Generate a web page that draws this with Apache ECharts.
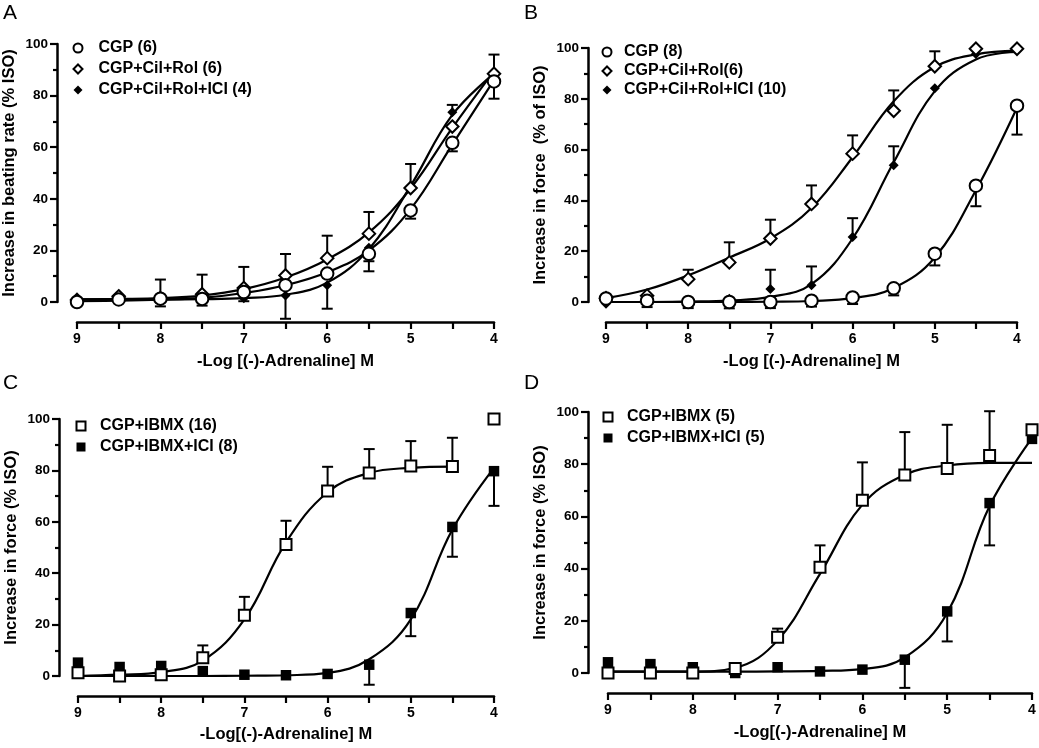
<!DOCTYPE html>
<html>
<head>
<meta charset="utf-8">
<script src="https://cdn.jsdelivr.net/npm/echarts@6/dist/echarts.min.js"></script>
<style>html,body{margin:0;padding:0;background:#fff}#c{width:1039px;height:748px}</style>
</head>
<body>
<div id="c"></div>
<script>
// -Log[(-)-Adrenaline] M
const doses = [9, 8.5, 8, 7.5, 7, 6.5, 6, 5.5, 5, 4.5, 4];
const xTicks = [9, 8, 7, 6, 5, 4];
const yTicks = [0, 20, 40, 60, 80, 100];

// Panel A
const aCGP     = [0, 1, 1.3, 1.2, 3.9, 6.5, 11, 18.7, 35.5, 61.7, 85.5];
const aCGPerr  = [null, null, -1.7, -1.4, 0.3, null, null, 11.9, 32.3, 58.4, 78.8];
const aCil     = [0.8, 2.2, 1.5, 3, 5.4, 10.3, 17, 26.5, 44.2, 68, 88.5];
const aCilErr  = [null, null, 8.7, 10.6, 13.6, 18.6, 25.7, 34.9, 53.5, null, 95.9];
const aICI     = [0.5, 1.5, 1, 1, 1.5, 2.5, 6.5, 21, 44, 73.5, 87];
const aICIerr  = [null, null, null, null, null, -6.5, -2.6, 15.8, null, 76.4, null];
const aCGPfit  = [0.3, 0.5, 0.9, 1.6, 3.5, 6.5, 11.5, 20, 36, 61, 86];
const aCilFit  = [1, 1.2, 1.5, 2.5, 5, 9.5, 16.5, 27, 44, 67.5, 89.5];
const aICIfit  = [1, 1, 1, 1.1, 1.5, 2.8, 7.5, 20.5, 45, 72.5, 88.5];

// Panel B
const bCGP     = [1.4, 0.5, 0, 0, 0, 0.5, 1.8, 5.4, 19, 45.8, 77.3];
const bCGPerr  = [null, -2, -2.4, -2.5, -2.4, -1.8, -0.8, 2.6, 14.4, 37.7, 65.9];
const bCil     = [1.5, 2.5, 9, 15.6, 25, 38.6, 58.4, 75.3, 92.8, 99.7, 99.7];
const bCilErr  = [null, null, 12.7, 23.5, 32.4, 45.9, 65.6, 83.3, 98.7, null, null];
const bICI     = [-0.7, 1, 0.5, 1.3, 5.1, 6.6, 25.6, 53.8, 84.2, 97.6, 99.5];
const bICIerr  = [null, null, null, null, 12.7, 14, 33, 61.3, null, null, null];
const bCGPfit  = [0, 0, 0, 0, 0.1, 0.4, 1.5, 5.5, 17.5, 44, 76.5];
const bCilFit  = [1.5, 4.9, 10.5, 17.5, 25, 37, 57, 79, 92.5, 97.5, 99];
const bICIfit  = [0, 0, 0.2, 0.6, 2, 7, 25, 55, 83, 95.5, 98.5];

// Panel C
const cIBMX     = [1.3, 0, 0.5, 7.1, 23.6, 51.2, 72, 79, 81.7, 81.5, 100];
const cIBMXerr  = [null, null, null, 11.9, 30.8, 60.4, 81.4, 88.3, 91.4, 92.7, null];
const cICI      = [5.2, 3.5, 3.9, 1.9, 0.5, 0.3, 0.8, 4.4, 24.5, 58, 79.7];
const cICIerr   = [null, null, null, null, null, null, null, -3.4, 15.5, 46.4, 66.2];
const cIBMXfit  = [0, 0.5, 1.5, 6, 22, 52, 71.5, 79, 81, 81.5, null];
const cICIfit   = [0, 0, 0, 0, 0.1, 0.3, 1.2, 6.5, 22, 57, 81];

// Panel D
const dIBMX     = [0, 0, 0, 1.7, 13.7, 40.5, 66.2, 75.9, 78.4, 83.3, 93.2];
const dIBMXerr  = [null, null, null, null, 17, 48.9, 80.7, 92.3, 95.1, 100.3, null];
const dICI      = [4.1, 3.4, 2.2, 0, 2.2, 0.6, 1.3, 5.1, 23.6, 65.1, 89.7];
const dICIerr   = [null, null, null, null, null, null, null, -5.7, 12.1, 48.9, null];
const dIBMXfit  = [0.5, 0.5, 0.5, 2, 12.5, 38, 64.5, 76, 79.5, 80.5, 80.5];
const dICIfit   = [0.5, 0.5, 0.5, 0.5, 0.6, 0.8, 1.5, 6, 23, 64, 90];

const FONT = "'Liberation Sans', Arial, sans-serif";
const chart = echarts.init(document.getElementById('c'));

function pairs(vals) {
  const out = [];
  doses.forEach((x, i) => { if (vals[i] != null) out.push([x, vals[i]]); });
  return out;
}
function errPairs(vals, errs) {
  const out = [];
  doses.forEach((x, i) => { if (errs[i] != null) out.push([x, vals[i], errs[i]]); });
  return out;
}
function xAxis(idx, name, gap) {
  return {
    gridIndex: idx, type: 'value', min: 4, max: 9, interval: 0.5, inverse: true,
    offset: 20, name: name, nameLocation: 'middle', nameGap: gap,
    nameTextStyle: { fontFamily: FONT, fontWeight: 'bold', fontSize: 16.5, color: '#000' },
    axisLine: { onZero: false, lineStyle: { color: '#000', width: 2.5 } },
    axisTick: { length: 7, lineStyle: { color: '#000', width: 2.2 } },
    axisLabel: { margin: 10, fontFamily: FONT, fontWeight: 'bold', fontSize: 14, color: '#000',
      formatter: v => xTicks.indexOf(v) >= 0 ? String(v) : '' },
    splitLine: { show: false }
  };
}
function yAxis(idx, name, off) {
  return {
    gridIndex: idx, type: 'value', min: yTicks[0], max: yTicks[yTicks.length - 1], interval: 20,
    offset: off, name: name, nameLocation: 'middle', nameGap: 39,
    nameTextStyle: { fontFamily: FONT, fontWeight: 'bold', fontSize: 16.5, color: '#000' },
    axisLine: { show: true, lineStyle: { color: '#000', width: 2.5 } },
    axisTick: { show: true, length: 7, lineStyle: { color: '#000', width: 2.2 } },
    minorTick: { show: true, splitNumber: 2, length: 4, lineStyle: { color: '#000', width: 2.2 } },
    axisLabel: { margin: 9, fontFamily: FONT, fontWeight: 'bold', fontSize: 13.5, color: '#000' },
    splitLine: { show: false }
  };
}
function pts(idx, name, vals, symbol, size, filled) {
  return {
    type: 'scatter', name: name, xAxisIndex: idx, yAxisIndex: idx, data: pairs(vals),
    symbol: symbol, symbolSize: size, clip: false, z: 4, silent: true,
    itemStyle: filled ? { color: '#000', borderColor: '#000', borderWidth: 0, opacity: 1 }
                      : { color: '#fff', borderColor: '#000', borderWidth: 2, opacity: 1 }
  };
}
function fit(idx, vals) {
  return {
    type: 'line', xAxisIndex: idx, yAxisIndex: idx, data: pairs(vals), showSymbol: false,
    symbol: 'none', smooth: 0.4, clip: false, z: 3, silent: true,
    lineStyle: { color: '#000', width: 2.2 }
  };
}
function err(idx, vals, errs) {
  return {
    type: 'custom', xAxisIndex: idx, yAxisIndex: idx, data: errPairs(vals, errs),
    clip: false, z: 2, silent: true,
    renderItem: function (params, api) {
      const x = api.value(0), y0 = api.value(1), y1 = api.value(2);
      const p0 = api.coord([x, y0]), p1 = api.coord([x, y1]);
      const hw = 5.5;
      return { type: 'group', children: [
        { type: 'line', shape: { x1: p0[0], y1: p0[1], x2: p1[0], y2: p1[1] }, style: { stroke: '#000', lineWidth: 2 } },
        { type: 'line', shape: { x1: p1[0] - hw, y1: p1[1], x2: p1[0] + hw, y2: p1[1] }, style: { stroke: '#000', lineWidth: 2 } }
      ] };
    }
  };
}
function legend(names, left, top, gap, pad) {
  return {
    data: names, orient: 'vertical', left: left, top: top, itemWidth: 9, itemHeight: 9,
    itemGap: gap, selectedMode: false, padding: 0,
    textStyle: { fontFamily: FONT, fontWeight: 'bold', fontSize: 16, color: '#000', lineHeight: 16,
      padding: [0, 0, 0, pad] }
  };
}

const option = {
  animation: false,
  backgroundColor: '#fff',
  grid: [
    { left: 77, top: 44, width: 417, height: 258 },
    { left: 606, top: 48, width: 411, height: 254 },
    { left: 78, top: 419, width: 416, height: 257 },
    { left: 608, top: 412, width: 424, height: 261 }
  ],
  xAxis: [
    xAxis(0, '-Log [(-)-Adrenaline] M', 31),
    xAxis(1, '-Log [(-)-Adrenaline] M', 31),
    xAxis(2, '-Log[(-)-Adrenaline] M', 30),
    xAxis(3, '-Log[(-)-Adrenaline] M', 31)
  ],
  yAxis: [
    yAxis(0, 'Increase in beating rate (% ISO)', 20),
    yAxis(1, 'Increase in force  (% of ISO)', 18),
    yAxis(2, 'Increase in force (% ISO)', 19),
    yAxis(3, 'Increase in force (% ISO)', 20)
  ],
  legend: [
    legend(['CGP (6)', 'CGP+Cil+Rol (6)', 'CGP+Cil+Rol+ICI (4)'], 72.5, 40, 5, 11),
    legend(['CGP (8)', 'CGP+Cil+Rol(6)', 'CGP+Cil+Rol+ICI (10)'], 601.5, 44, 3, 7.5),
    legend(['CGP+IBMX (16)', 'CGP+IBMX+ICI (8)'], 75.5, 418, 5, 9.5),
    legend(['CGP+IBMX (5)', 'CGP+IBMX+ICI (5)'], 602.5, 409, 5, 9.5)
  ],
  graphic: [
    { type: 'text', left: 3, top: 3, style: { text: 'A', font: "21px " + FONT, fill: '#000' } },
    { type: 'text', left: 524, top: 3, style: { text: 'B', font: "21px " + FONT, fill: '#000' } },
    { type: 'text', left: 3, top: 373, style: { text: 'C', font: "21px " + FONT, fill: '#000' } },
    { type: 'text', left: 524, top: 373, style: { text: 'D', font: "21px " + FONT, fill: '#000' } }
  ],
  series: [
    // A
    err(0, aCGP, aCGPerr), err(0, aCil, aCilErr), err(0, aICI, aICIerr),
    fit(0, aCGPfit), fit(0, aCilFit), fit(0, aICIfit),
    pts(0, 'CGP+Cil+Rol+ICI (4)', aICI, 'diamond', 10, true),
    pts(0, 'CGP+Cil+Rol (6)', aCil, 'diamond', 12.5, false),
    pts(0, 'CGP (6)', aCGP, 'circle', 12.5, false),
    // B
    err(1, bCGP, bCGPerr), err(1, bCil, bCilErr), err(1, bICI, bICIerr),
    fit(1, bCGPfit), fit(1, bCilFit), fit(1, bICIfit),
    pts(1, 'CGP+Cil+Rol+ICI (10)', bICI, 'diamond', 10, true),
    pts(1, 'CGP+Cil+Rol(6)', bCil, 'diamond', 12.5, false),
    pts(1, 'CGP (8)', bCGP, 'circle', 12.5, false),
    // C
    err(2, cIBMX, cIBMXerr), err(2, cICI, cICIerr),
    fit(2, cIBMXfit), fit(2, cICIfit),
    pts(2, 'CGP+IBMX+ICI (8)', cICI, 'rect', 10.5, true),
    pts(2, 'CGP+IBMX (16)', cIBMX, 'rect', 11, false),
    // D
    err(3, dIBMX, dIBMXerr), err(3, dICI, dICIerr),
    fit(3, dIBMXfit), fit(3, dICIfit),
    pts(3, 'CGP+IBMX+ICI (5)', dICI, 'rect', 10.5, true),
    pts(3, 'CGP+IBMX (5)', dIBMX, 'rect', 11, false)
  ]
};
chart.setOption(option);
</script>
</body>
</html>
